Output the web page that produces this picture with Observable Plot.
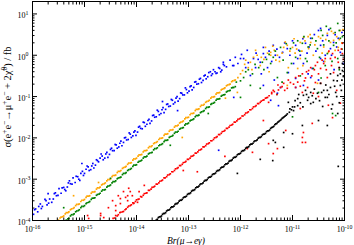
<!DOCTYPE html>
<html><head><meta charset="utf-8">
<script src="https://cdn.jsdelivr.net/npm/d3@7"></script>
<script src="https://cdn.jsdelivr.net/npm/@observablehq/plot@0.6"></script>
<style>body{margin:0;background:#fff}svg{display:block}</style>
</head><body><div id="chart"></div>
<script>
// Tick values and labels (decade exponents)
const xTickExps = [-16, -15, -14, -13, -12, -11, -10];
const yTickExps = [-4, -3, -2, -1, 0, 1];
const xTitle = "Br(μ→eγ)";

// Points as [log10 Br(mu->e gamma), log10 sigma/fb]
const bluePoints = [
[-15.98,-3.85],[-15.94,-3.72],[-15.90,-3.79],[-15.85,-3.60],[-15.81,-3.66],[-15.76,-3.49],[-15.72,-3.62],[-15.67,-3.48],
[-15.63,-3.56],[-15.58,-3.35],[-15.54,-3.40],[-15.49,-3.23],[-15.45,-3.34],[-15.40,-3.20],[-15.36,-3.28],[-15.31,-3.09],
[-15.27,-3.11],[-15.22,-2.97],[-15.18,-3.08],[-15.13,-2.94],[-15.09,-3.03],[-15.04,-2.81],[-15.00,-2.86],[-14.95,-2.68],
[-14.91,-2.79],[-14.86,-2.68],[-14.82,-2.73],[-14.77,-2.53],[-14.73,-2.58],[-14.68,-2.39],[-14.64,-2.53],[-14.59,-2.39],
[-14.55,-2.47],[-14.50,-2.28],[-14.46,-2.31],[-14.41,-2.16],[-14.37,-2.25],[-14.32,-2.13],[-14.28,-2.19],[-14.23,-2.00],
[-14.19,-2.05],[-14.14,-1.88],[-14.10,-1.99],[-14.05,-1.86],[-14.01,-1.94],[-13.96,-1.74],[-13.92,-1.77],[-13.87,-1.62],
[-13.83,-1.72],[-13.78,-1.58],[-13.74,-1.65],[-13.69,-1.46],[-13.65,-1.50],[-13.60,-1.33],[-13.56,-1.44],[-13.51,-1.32],
[-13.47,-1.39],[-13.42,-1.19],[-13.38,-1.24],[-13.33,-1.07],[-13.29,-1.18],[-13.24,-1.04],[-13.20,-1.11],[-13.15,-0.91],
[-13.11,-0.96],[-13.06,-0.79],[-13.02,-0.91],[-12.97,-0.76],[-12.93,-0.84],[-12.88,-0.65],[-12.84,-0.70],[-12.79,-0.58],
[-12.75,-0.66],[-12.70,-0.50],[-12.66,-0.57],[-12.61,-0.42],[-12.56,-0.49],[-12.52,-0.35],[-12.47,-0.44],[-12.42,-0.30],
[-12.38,-0.40],[-12.33,-0.22],
[-15.96,-3.74],[-15.88,-3.66],[-15.83,-3.71],[-15.74,-3.52],[-15.69,-3.58],[-15.60,-3.48],[-15.56,-3.33],[-15.51,-3.39],
[-15.43,-3.21],[-15.38,-3.25],[-15.33,-3.19],[-15.29,-3.04],[-15.24,-3.12],[-15.16,-2.93],[-15.11,-3.00],[-15.07,-2.86],
[-15.02,-2.91],[-14.97,-2.76],[-14.93,-2.70],[-14.88,-2.77],[-14.84,-2.62],[-14.79,-2.66],[-14.75,-2.55],[-14.70,-2.49],
[-14.66,-2.44],[-14.61,-2.49],[-14.57,-2.35],[-14.52,-2.40],[-14.48,-2.25],[-14.43,-2.31],[-14.39,-2.17],[-14.34,-2.22],
[-14.30,-2.08],[-14.25,-2.11],[-14.21,-1.99],[-14.16,-2.04],[-14.12,-1.91],[-14.07,-1.95],[-14.03,-1.83],[-13.98,-1.86],
[-13.94,-1.72],[-13.89,-1.78],[-13.85,-1.63],[-13.80,-1.67],[-13.76,-1.55],[-13.71,-1.59],[-13.67,-1.45],[-13.62,-1.49],
[-13.58,-1.36],[-13.53,-1.41],[-13.49,-1.27],[-13.44,-1.31],[-13.40,-1.18],[-13.35,-1.23],[-13.31,-1.09],[-13.26,-1.14],
[-13.22,-1.00],[-13.17,-1.05],[-13.13,-0.92],[-13.08,-0.96],[-13.04,-0.83],[-12.99,-0.87],[-12.95,-0.74],[-12.90,-0.78],
[-12.86,-0.64],[-12.81,-0.69],[-12.77,-0.56],[-12.72,-0.61],[-12.68,-0.48],[-12.63,-0.52],[-12.58,-0.40],[-12.54,-0.45],
[-12.49,-0.40],[-12.45,-0.43],[-12.40,-0.32],[-12.36,-0.36],[-12.31,-0.25],[-12.27,-0.28],
[-15.70,-3.35],[-15.05,-2.62],[-13.50,-1.12],[-13.21,-1.34],[-12.42,-2.30],[-11.42,-1.09],[-12.13,-1.02],[-11.27,-1.22],
[-12.15,-0.25],[-12.10,-0.05],[-11.94,-0.08],[-11.90,-0.30],[-11.75,-0.08],[-11.62,-0.17],[-11.56,0.04],[-11.37,0.24],
[-11.33,0.00],[-11.19,0.07],[-11.10,0.16],[-10.90,-0.08],[-10.94,0.24],[-10.85,0.00],[-10.75,0.29],[-10.65,0.41],
[-10.50,0.60],[-10.46,0.24],[-10.33,0.48],[-10.27,0.16],[-10.21,0.31],[-10.12,0.41],[-10.08,0.07],[-11.23,-0.78],
[-10.94,-0.56],[-11.29,-0.92],[-11.56,-0.73],[-11.81,-0.49],[-11.48,-0.30],[-10.62,-0.32],[-10.46,-0.08],[-10.37,0.00],
[-10.79,-0.20],[-11.08,-0.42],[-12.33,-0.17],[-12.13,-0.25],[-11.87,0.12],[-12.00,-0.08],[-11.56,0.19],[-11.71,-0.30],
[-10.46,0.65],[-10.94,-0.78],[-10.79,-0.73],[-10.65,-0.54],
[-12.20,-0.12],[-12.05,-0.20],[-11.98,0.02],[-11.85,-0.18],[-11.70,0.05],[-11.66,-0.10],[-11.52,-0.05],[-11.45,0.10],
[-11.40,-0.15],[-11.30,0.15],[-11.25,-0.05],[-11.15,0.30],[-11.05,0.00],[-11.00,0.35],[-10.98,-0.20],[-10.88,0.12],
[-10.80,0.40],[-10.72,0.05],[-10.68,0.20],[-10.58,0.50],[-10.55,0.10],[-10.42,0.35],[-10.40,-0.15],[-10.30,0.62],
[-10.25,0.00],[-10.18,0.50],[-10.15,0.20],[-10.05,0.55],[-10.03,-0.20],[-11.60,-0.45],[-11.35,-0.60],[-10.70,-0.45],
[-10.50,-0.60],[-10.20,-0.35]
];
const orangePoints = [
[-15.50,-3.99],[-15.45,-3.92],[-15.40,-3.89],[-15.35,-3.81],[-15.30,-3.79],[-15.25,-3.72],[-15.20,-3.69],[-15.15,-3.61],
[-15.10,-3.60],[-15.05,-3.51],[-15.00,-3.49],[-14.95,-3.41],[-14.90,-3.40],[-14.85,-3.31],[-14.80,-3.30],[-14.75,-3.21],
[-14.70,-3.19],[-14.65,-3.12],[-14.60,-3.09],[-14.55,-3.01],[-14.50,-2.99],[-14.45,-2.91],[-14.40,-2.90],[-14.35,-2.81],
[-14.30,-2.79],[-14.25,-2.72],[-14.20,-2.69],[-14.15,-2.61],[-14.10,-2.60],[-14.05,-2.51],[-14.00,-2.49],[-13.95,-2.41],
[-13.90,-2.40],[-13.85,-2.31],[-13.80,-2.30],[-13.75,-2.21],[-13.70,-2.19],[-13.65,-2.12],[-13.60,-2.09],[-13.55,-2.01],
[-13.50,-2.00],[-13.45,-1.91],[-13.40,-1.90],[-13.35,-1.81],[-13.30,-1.80],[-13.25,-1.71],[-13.20,-1.69],[-13.15,-1.62],
[-13.10,-1.59],[-13.05,-1.51],[-13.00,-1.50],[-12.95,-1.41],[-12.90,-1.40],[-12.85,-1.31],[-12.80,-1.30],[-12.75,-1.21],
[-12.70,-1.19],[-12.65,-1.12],[-12.60,-1.09],[-12.55,-1.01],[-12.50,-1.00],[-12.45,-0.91],[-12.40,-0.90],[-12.35,-0.82],
[-12.30,-0.79],[-12.25,-0.72],[-12.20,-0.70],[-12.15,-0.62],[-12.10,-0.60],[-12.05,-0.54],
[-15.47,-3.94],[-15.42,-3.91],[-15.37,-3.84],[-15.32,-3.81],[-15.27,-3.74],[-15.22,-3.71],[-15.17,-3.64],[-15.12,-3.61],
[-15.07,-3.54],[-15.02,-3.51],[-14.97,-3.44],[-14.92,-3.41],[-14.87,-3.34],[-14.82,-3.31],[-14.77,-3.24],[-14.72,-3.21],
[-14.67,-3.14],[-14.62,-3.11],[-14.57,-3.04],[-14.52,-3.01],[-14.47,-2.94],[-14.42,-2.91],[-14.37,-2.84],[-14.32,-2.81],
[-14.27,-2.74],[-14.22,-2.71],[-14.17,-2.64],[-14.12,-2.61],[-14.07,-2.54],[-14.02,-2.51],[-13.97,-2.44],[-13.92,-2.41],
[-13.87,-2.34],[-13.82,-2.31],[-13.77,-2.24],[-13.72,-2.21],[-13.67,-2.14],[-13.62,-2.11],[-13.57,-2.04],[-13.52,-2.01],
[-13.47,-1.94],[-13.42,-1.91],[-13.37,-1.84],[-13.32,-1.81],[-13.27,-1.74],[-13.22,-1.71],[-13.17,-1.64],[-13.12,-1.61],
[-13.07,-1.54],[-13.02,-1.51],[-12.97,-1.44],[-12.92,-1.41],[-12.87,-1.34],[-12.82,-1.31],[-12.77,-1.24],[-12.72,-1.21],
[-12.67,-1.14],[-12.62,-1.11],[-12.57,-1.04],[-12.52,-1.01],[-12.47,-0.94],[-12.42,-0.91],[-12.37,-0.84],[-12.32,-0.81],
[-12.27,-0.74],[-12.22,-0.71],[-12.17,-0.64],[-12.12,-0.61],
[-15.21,-3.40],[-14.73,-3.08],[-13.12,-1.99],[-12.29,-1.04],[-12.06,-0.90],
[-11.96,-0.37],[-11.81,-0.17],[-11.62,-0.25],[-11.71,0.12],[-11.42,0.07],[-11.42,0.00],[-11.52,0.19],[-11.29,0.00],
[-11.17,0.19],[-11.10,0.24],[-11.08,-0.30],[-11.00,0.19],[-10.85,0.31],[-10.85,-0.08],[-10.90,-0.32],[-10.79,0.43],
[-10.69,0.16],[-10.65,0.31],[-10.60,0.00],[-10.46,0.41],[-10.33,0.53],[-10.31,0.07],[-10.27,0.31],[-10.21,0.53],
[-10.21,0.36],[-10.12,0.19],[-10.08,0.60],[-10.52,-0.68],[-11.10,-0.73],[-11.90,-0.12],[-11.85,-0.30],[-11.75,-0.05],
[-11.55,-0.10],[-11.35,0.12],[-10.95,0.05],[-10.70,0.45],[-10.40,0.20],[-10.15,0.45],[-10.05,0.30],[-11.25,-0.15],
[-12.00,-0.45],
[-11.92,-0.22],[-11.78,-0.35],[-11.68,0.00],[-11.60,-0.05],[-11.48,0.05],[-11.38,0.22],[-11.32,-0.12],[-11.20,0.05],
[-11.14,0.32],[-11.05,0.10],[-10.97,0.40],[-10.92,0.15],[-10.82,0.10],[-10.76,0.35],[-10.66,0.50],[-10.57,0.25],
[-10.50,0.45],[-10.43,0.05],[-10.36,0.38],[-10.25,0.58],[-10.18,0.12],[-10.10,0.38],[-10.03,0.62],[-11.45,-0.40],
[-10.80,-0.25],[-10.38,-0.15]
];
const greenPoints = [
[-15.35,-3.99],[-15.30,-3.95],[-15.25,-3.86],[-15.20,-3.84],[-15.15,-3.77],[-15.10,-3.74],[-15.05,-3.66],[-15.00,-3.64],
[-14.95,-3.57],[-14.90,-3.54],[-14.85,-3.46],[-14.80,-3.45],[-14.75,-3.37],[-14.70,-3.34],[-14.65,-3.26],[-14.60,-3.25],
[-14.55,-3.17],[-14.50,-3.14],[-14.45,-3.06],[-14.40,-3.04],[-14.35,-2.97],[-14.30,-2.95],[-14.25,-2.86],[-14.20,-2.84],
[-14.15,-2.77],[-14.10,-2.74],[-14.05,-2.66],[-14.00,-2.65],[-13.95,-2.57],[-13.90,-2.54],[-13.85,-2.46],[-13.80,-2.44],
[-13.75,-2.37],[-13.70,-2.35],[-13.65,-2.26],[-13.60,-2.24],[-13.55,-2.17],[-13.50,-2.14],[-13.45,-2.06],[-13.40,-2.05],
[-13.35,-1.97],[-13.30,-1.94],[-13.25,-1.86],[-13.20,-1.84],[-13.15,-1.77],[-13.10,-1.75],[-13.05,-1.66],[-13.00,-1.64],
[-12.95,-1.57],[-12.90,-1.54],[-12.85,-1.46],[-12.80,-1.45],[-12.75,-1.37],[-12.70,-1.34],[-12.65,-1.26],[-12.60,-1.25],
[-12.55,-1.17],[-12.50,-1.14],[-12.45,-1.06],[-12.40,-1.05],[-12.35,-0.97],[-12.30,-0.95],[-12.25,-0.87],[-12.20,-0.85],
[-12.15,-0.78],[-12.10,-0.76],
[-15.32,-3.96],[-15.27,-3.89],[-15.22,-3.86],[-15.17,-3.79],[-15.12,-3.76],[-15.07,-3.69],[-15.02,-3.66],[-14.97,-3.59],
[-14.92,-3.56],[-14.87,-3.49],[-14.82,-3.46],[-14.77,-3.39],[-14.72,-3.36],[-14.67,-3.29],[-14.62,-3.26],[-14.57,-3.19],
[-14.52,-3.16],[-14.47,-3.09],[-14.42,-3.06],[-14.37,-2.99],[-14.32,-2.96],[-14.27,-2.89],[-14.22,-2.86],[-14.17,-2.79],
[-14.12,-2.76],[-14.07,-2.69],[-14.02,-2.66],[-13.97,-2.59],[-13.92,-2.56],[-13.87,-2.49],[-13.82,-2.46],[-13.77,-2.39],
[-13.72,-2.36],[-13.67,-2.29],[-13.62,-2.26],[-13.57,-2.19],[-13.52,-2.16],[-13.47,-2.09],[-13.42,-2.06],[-13.37,-1.99],
[-13.32,-1.96],[-13.27,-1.89],[-13.22,-1.86],[-13.17,-1.79],[-13.12,-1.76],[-13.07,-1.69],[-13.02,-1.66],[-12.97,-1.59],
[-12.92,-1.56],[-12.87,-1.49],[-12.82,-1.46],[-12.77,-1.39],[-12.72,-1.36],[-12.67,-1.29],[-12.62,-1.26],[-12.57,-1.19],
[-12.52,-1.16],[-12.47,-1.09],[-12.42,-1.06],[-12.37,-0.99],[-12.32,-0.96],[-12.27,-0.89],[-12.22,-0.86],[-12.17,-0.79],
[-15.40,-3.69],[-14.50,-2.98],[-13.35,-2.18],[-12.62,-1.41],
[-12.13,-0.78],[-11.94,-0.54],[-11.77,-0.45],[-11.58,-0.17],[-11.42,-0.20],[-11.37,-0.05],[-11.23,0.19],[-11.04,0.16],
[-10.94,-0.05],[-10.81,0.29],[-10.75,-0.08],[-10.62,0.41],[-10.52,0.16],[-10.42,0.48],[-10.33,0.04],[-10.27,0.65],
[-10.21,0.24],[-10.13,-0.08],[-10.08,0.41],[-10.13,0.77],[-10.37,-0.25],[-10.60,-0.32],[-11.10,-0.42],[-11.29,-0.54],
[-12.00,-0.62],[-11.85,-0.35],[-11.65,-0.30],[-11.50,-0.10],[-10.90,0.35],[-10.70,0.20],[-10.45,0.60],[-10.18,0.55],
[-10.05,0.15],[-12.00,-1.02],[-11.81,-0.73],[-11.62,-0.80],[-11.00,-1.49],[-10.23,-1.41],[-10.17,-1.46],[-10.50,-0.90],
[-11.30,-0.95],
[-12.08,-0.65],[-11.90,-0.40],[-11.72,-0.22],[-11.55,-0.35],[-11.45,0.02],[-11.33,0.10],[-11.18,-0.12],[-11.12,0.28],
[-11.02,-0.20],[-10.98,0.30],[-10.86,0.10],[-10.78,0.45],[-10.72,-0.15],[-10.66,0.25],[-10.55,0.35],[-10.48,-0.05],
[-10.40,0.25],[-10.35,0.70],[-10.30,0.35],[-10.24,-0.15],[-10.16,0.30],[-10.10,0.60],[-10.04,0.45],[-11.20,-0.65],
[-10.85,-0.50],[-10.45,-0.55],[-10.10,-0.35]
];
const redPoints = [
[-14.45,-3.95],[-14.40,-3.88],[-14.35,-3.86],[-14.30,-3.80],[-14.25,-3.78],[-14.20,-3.72],[-14.15,-3.65],[-14.10,-3.62],
[-14.05,-3.58],[-14.00,-3.50],[-13.95,-3.48],[-13.90,-3.43],[-13.85,-3.35],[-13.80,-3.33],[-13.75,-3.27],[-13.70,-3.20],
[-13.65,-3.17],[-13.60,-3.12],[-13.55,-3.05],[-13.50,-3.02],[-13.45,-2.97],[-13.40,-2.90],[-13.35,-2.87],[-13.30,-2.82],
[-13.25,-2.75],[-13.20,-2.72],[-13.15,-2.67],[-13.10,-2.60],[-13.05,-2.57],[-13.00,-2.52],[-12.95,-2.45],[-12.90,-2.42],
[-12.85,-2.37],[-12.80,-2.30],[-12.75,-2.27],[-12.70,-2.22],[-12.65,-2.15],[-12.60,-2.12],[-12.55,-2.07],[-12.50,-2.00],
[-12.45,-1.97],[-12.40,-1.92],[-12.35,-1.85],[-12.30,-1.82],[-12.25,-1.77],[-12.20,-1.70],[-12.15,-1.67],[-12.10,-1.62],
[-12.05,-1.55],[-12.00,-1.52],[-11.95,-1.47],[-11.90,-1.40],[-11.85,-1.37],[-11.80,-1.32],[-11.75,-1.25],[-11.70,-1.22],
[-11.65,-1.17],[-11.60,-1.11],[-11.55,-1.08],[-11.50,-1.03],
[-14.42,-3.94],[-14.37,-3.89],[-14.32,-3.81],[-14.27,-3.79],[-14.22,-3.74],[-14.17,-3.68],[-14.12,-3.64],[-14.07,-3.57],
[-14.02,-3.54],[-13.97,-3.49],[-13.92,-3.42],[-13.87,-3.39],[-13.82,-3.34],[-13.77,-3.27],[-13.72,-3.24],[-13.67,-3.19],
[-13.62,-3.12],[-13.57,-3.09],[-13.52,-3.04],[-13.47,-2.97],[-13.42,-2.94],[-13.37,-2.89],[-13.32,-2.82],[-13.27,-2.79],
[-13.22,-2.74],[-13.17,-2.67],[-13.12,-2.64],[-13.07,-2.59],[-13.02,-2.52],[-12.97,-2.49],[-12.92,-2.44],[-12.87,-2.37],
[-12.82,-2.34],[-12.77,-2.29],[-12.72,-2.22],[-12.67,-2.19],[-12.62,-2.14],[-12.57,-2.07],[-12.52,-2.04],[-12.47,-1.99],
[-12.42,-1.92],[-12.37,-1.89],[-12.32,-1.84],[-12.27,-1.77],[-12.22,-1.74],[-12.17,-1.69],[-12.12,-1.62],[-12.07,-1.59],
[-12.02,-1.54],[-11.97,-1.47],[-11.92,-1.44],[-11.87,-1.39],[-11.82,-1.32],[-11.77,-1.29],[-11.72,-1.24],[-11.67,-1.17],
[-11.62,-1.14],[-11.57,-1.09],[-11.52,-1.04],[-11.45,-0.98],[-11.40,-0.93],[-11.35,-0.88],[-11.27,-0.84],[-11.20,-0.76],
[-14.94,-3.88],[-14.69,-3.88],[-14.40,-3.64],[-14.31,-3.47],[-14.17,-3.40],[-14.08,-3.40],[-13.98,-3.56],[-14.54,-3.69],
[-14.46,-3.52],[-14.35,-3.40],[-14.21,-3.44],[-14.12,-3.30],[-14.17,-3.52],[-14.06,-3.59],[-14.31,-3.59],[-14.40,-3.76],
[-14.69,-3.83],[-14.92,-3.95],[-14.63,-3.93],[-14.25,-3.30],[-14.15,-3.22],[-13.95,-3.30],[-13.10,-2.79],[-13.85,-3.15],
[-11.48,-1.02],[-11.37,-0.85],[-11.23,-0.78],[-11.17,-0.68],[-11.04,-0.66],[-10.94,-0.54],[-10.81,-0.45],[-10.69,-0.37],
[-10.56,-0.25],[-10.46,-0.32],[-10.40,-0.20],[-10.27,-0.08],[-10.21,-0.42],[-10.12,-0.17],[-10.04,0.04],[-10.56,-0.66],
[-10.33,-0.54],[-10.71,-0.78],[-10.60,-0.92],[-10.81,-0.90],[-10.46,-0.68],[-10.94,-0.78],[-10.65,-0.30],[-10.52,-0.17],
[-10.37,-0.08],[-10.23,0.04],[-10.12,0.12],[-10.04,0.29],[-11.30,-0.95],[-11.10,-0.80],[-10.90,-0.65],[-10.75,-0.55],
[-11.40,-0.90],[-11.28,-0.72],[-11.15,-0.85],[-11.08,-0.60],[-10.98,-0.70],[-10.88,-0.50],[-10.85,-0.75],[-10.77,-0.62],
[-10.73,-0.40],[-10.63,-0.50],[-10.58,-0.35],[-10.50,-0.45],[-10.43,-0.12],[-10.35,-0.35],[-10.30,0.10],[-10.25,-0.25],
[-10.18,-0.05],[-10.10,-0.30],[-10.06,0.15],[-10.02,-0.10],
[-11.46,-1.14],[-11.56,-1.58],[-11.13,-1.82],[-10.79,-1.87],[-10.81,-2.11],[-11.37,-2.38],[-10.62,-1.65],[-10.31,-1.21],
[-10.08,-1.16],[-10.85,-1.29],[-11.46,-2.14],[-11.29,-2.26],[-11.77,-2.35],[-11.87,-2.26],[-12.83,-2.82],[-10.81,-1.99],
[-10.75,-2.11],[-10.23,-1.51],[-12.30,-2.45],[-10.50,-1.00],[-10.15,-0.85]
];
const blackPoints = [
[-13.62,-3.99],[-13.58,-3.93],[-13.54,-3.91],[-13.50,-3.85],[-13.46,-3.83],[-13.42,-3.77],[-13.38,-3.75],[-13.34,-3.69],
[-13.30,-3.67],[-13.26,-3.61],[-13.22,-3.59],[-13.18,-3.53],[-13.14,-3.51],[-13.10,-3.45],[-13.06,-3.43],[-13.02,-3.37],
[-12.98,-3.35],[-12.94,-3.29],[-12.90,-3.27],[-12.86,-3.21],[-12.82,-3.19],[-12.78,-3.13],[-12.74,-3.11],[-12.70,-3.05],
[-12.66,-3.03],[-12.62,-2.97],[-12.58,-2.95],[-12.54,-2.89],[-12.50,-2.87],[-12.46,-2.81],[-12.42,-2.79],[-12.38,-2.73],
[-12.34,-2.71],[-12.30,-2.65],[-12.26,-2.63],[-12.22,-2.57],[-12.18,-2.55],[-12.14,-2.49],[-12.10,-2.47],[-12.06,-2.41],
[-12.02,-2.39],[-11.98,-2.33],[-11.94,-2.31],[-11.90,-2.25],[-11.86,-2.23],[-11.82,-2.17],[-11.78,-2.15],[-11.74,-2.09],
[-11.70,-2.07],[-11.66,-2.01],[-11.62,-1.99],[-11.58,-1.93],[-11.54,-1.91],[-11.50,-1.85],[-11.46,-1.83],[-11.42,-1.77],
[-11.38,-1.74],[-11.34,-1.68],[-11.30,-1.65],[-11.26,-1.60],[-11.22,-1.56],[-11.18,-1.51],[-11.14,-1.47],[-11.10,-1.42],
[-13.60,-3.97],[-13.56,-3.91],[-13.52,-3.89],[-13.48,-3.83],[-13.44,-3.81],[-13.40,-3.75],[-13.36,-3.73],[-13.32,-3.67],
[-13.28,-3.65],[-13.24,-3.59],[-13.20,-3.57],[-13.16,-3.51],[-13.12,-3.49],[-13.08,-3.43],[-13.04,-3.41],[-13.00,-3.35],
[-12.96,-3.33],[-12.92,-3.27],[-12.88,-3.25],[-12.84,-3.19],[-12.80,-3.17],[-12.76,-3.11],[-12.72,-3.09],[-12.68,-3.03],
[-12.64,-3.01],[-12.60,-2.95],[-12.56,-2.93],[-12.52,-2.87],[-12.48,-2.85],[-12.44,-2.79],[-12.40,-2.77],[-12.36,-2.71],
[-12.32,-2.69],[-12.28,-2.63],[-12.24,-2.61],[-12.20,-2.55],[-12.16,-2.53],[-12.12,-2.47],[-12.08,-2.45],[-12.04,-2.39],
[-12.00,-2.37],[-11.96,-2.31],[-11.92,-2.29],[-11.88,-2.23],[-11.84,-2.21],[-11.80,-2.15],[-11.76,-2.13],[-11.72,-2.07],
[-11.68,-2.05],[-11.64,-1.99],[-11.60,-1.97],[-11.56,-1.91],[-11.52,-1.89],[-11.48,-1.83],[-11.44,-1.81],[-11.40,-1.75],
[-11.36,-1.72],[-11.32,-1.66],[-11.28,-1.62],[-11.24,-1.58],[-11.20,-1.53],[-11.16,-1.49],[-11.12,-1.45],[-11.06,-1.38],
[-11.02,-1.32],[-10.96,-1.25],
[-11.08,-1.14],[-10.98,-1.34],[-10.90,-1.05],[-10.79,-0.97],[-10.69,-1.02],[-10.65,-0.90],[-10.52,-0.92],[-10.40,-0.85],
[-10.33,-1.02],[-10.27,-0.78],[-10.17,-0.90],[-10.08,-0.73],[-10.60,-1.14],[-10.42,-1.24],[-10.23,-1.19],[-10.13,-1.41],
[-10.50,-1.58],[-10.33,-1.70],[-10.46,-0.68],[-10.33,-0.85],[-10.21,-0.61],[-10.08,-0.45],[-10.37,-1.02],[-10.71,-1.09],
[-10.13,-0.49],[-10.04,-0.37],[-10.27,-0.45],[-10.04,-0.20],[-10.10,-0.30],[-10.90,-1.22],[-10.65,-1.17],[-10.55,-1.05],
[-10.85,-1.15],[-11.00,-1.25],[-10.75,-0.85],[-10.15,-1.00],[-10.05,-0.60],
[-11.05,-1.30],[-10.95,-1.10],[-10.88,-0.95],[-10.80,-1.25],[-10.73,-0.95],[-10.62,-0.98],[-10.58,-0.82],[-10.48,-1.10],
[-10.44,-0.90],[-10.36,-0.72],[-10.30,-0.95],[-10.25,-1.30],[-10.19,-0.75],[-10.14,-0.62],[-10.10,-1.15],[-10.06,-0.85],
[-10.02,-0.50],
[-11.17,-2.23],[-11.37,-2.06],[-11.38,-2.55],[-10.12,-2.69],[-12.06,-2.86],[-11.62,-2.52],[-11.17,-1.87],[-11.33,-2.11],
[-10.81,-1.70],[-11.00,-1.90]
];

const seriesNames = ["blue", "orange", "green", "red", "black"];
const seriesColors = ["#0000ff", "#ffa500", "#008b00", "#ff0000", "#000000"];
const seriesPoints = [bluePoints, orangePoints, greenPoints, redPoints, blackPoints];

const rows = seriesPoints.flatMap((pts, i) =>
  pts.map(([lx, ly]) => ({br: 10 ** lx, sigma: 10 ** ly, series: seriesNames[i]})));

const xMajor = xTickExps.map(e => 10 ** e);
const yMajor = yTickExps.map(e => 10 ** e);
const minorOf = (exps) => exps.slice(0, -1).flatMap(e => d3.range(2, 10).map(m => m * 10 ** e));
const xMinor = minorOf(xTickExps);
const yMinor = minorOf(yTickExps);
const expLabel = d => "10^" + Math.round(Math.log10(d));

const font = "'Liberation Serif', 'DejaVu Serif', serif";

const plot = Plot.plot({
  width: 354, height: 245,
  marginLeft: 32, marginRight: 10, marginTop: 1, marginBottom: 25,
  style: {fontFamily: font, fontSize: "8px", background: "#fff", color: "#000"},
  x: {type: "log", domain: [1e-16, 1e-10], label: null},
  y: {type: "log", domain: [1e-4, 20], label: null},
  color: {domain: seriesNames, range: seriesColors},
  marks: [
    Plot.dot(rows, {x: "br", y: "sigma", fill: "series", symbol: "square", r: 0.95}),
    Plot.frame({stroke: "#000", strokeWidth: 1}),
    Plot.axisX(xMajor, {anchor: "bottom", tickSize: -5, fill: "none", label: null}),
    Plot.axisX(xMinor, {anchor: "bottom", tickSize: -2.5, fill: "none", label: null}),
    Plot.axisX(xMajor, {anchor: "top", tickSize: -5, fill: "none", label: null}),
    Plot.axisX(xMinor, {anchor: "top", tickSize: -2.5, fill: "none", label: null}),
    Plot.axisY(yMajor, {anchor: "left", tickSize: -5, fill: "none", label: null}),
    Plot.axisY(yMinor, {anchor: "left", tickSize: -2.5, fill: "none", label: null}),
    Plot.axisY(yMajor, {anchor: "right", tickSize: -5, fill: "none", label: null}),
    Plot.axisY(yMinor, {anchor: "right", tickSize: -2.5, fill: "none", label: null}),
    Plot.axisX(xMajor, {anchor: "bottom", tickSize: 0, tickPadding: 6, tickFormat: expLabel, label: null}),
    Plot.axisY(yMajor, {anchor: "left", tickSize: 0, tickPadding: 0, textAnchor: "start", dx: -15, dy: 2, tickFormat: expLabel, label: null})
  ]
});

const svg = d3.select(plot);
// turn "10^e" into 10 with a superscript exponent
svg.selectAll("text").each(function() {
  const t = d3.select(this);
  const m = /^10\^(-?\d+)$/.exec(this.textContent);
  if (!m) return;
  t.text(null);
  t.append("tspan").text("10");
  t.append("tspan").attr("dy", "-3.5").attr("font-size", "5.8px").text(m[1]);
});

// axis titles
svg.append("text")
  .attr("x", 186).attr("y", 243.5)
  .attr("text-anchor", "middle")
  .attr("font-family", font).attr("font-size", 9.5).attr("font-style", "italic")
  .text(xTitle);

const yt = svg.append("text")
  .attr("transform", "translate(11,97) rotate(-90)")
  .attr("text-anchor", "middle")
  .attr("font-family", font).attr("font-size", 10.5);
const yParts = [["σ(e", 0], ["+", 1], ["e", 0], ["−", 1], ["→μ", 0], ["+", 1], ["e", 0], ["−", 1], [" + 2χ̃", 0], ["0", 1], [") / fb", 0]];
let up = false;
for (const [txt, sup] of yParts) {
  const ts = yt.append("tspan").text(txt);
  if (sup) ts.attr("font-size", "7.4px");
  if (sup && !up) { ts.attr("dy", -4); up = true; }
  else if (!sup && up) { ts.attr("dy", 4); up = false; }
}

document.getElementById("chart").append(plot);
</script>
</body></html>
